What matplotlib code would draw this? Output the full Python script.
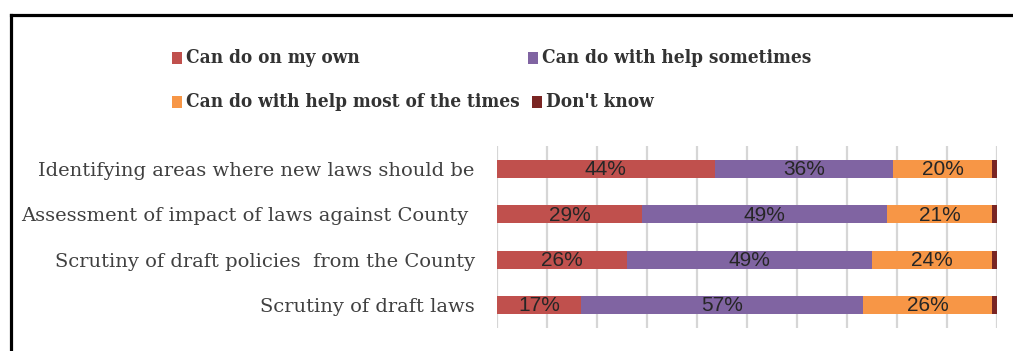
import matplotlib
matplotlib.use("Agg")
import matplotlib.pyplot as plt
from matplotlib.lines import Line2D
from matplotlib.patches import Rectangle
import numpy as np

# Survey items (top to bottom) and response shares in percent
items = [
    "Identifying areas where new laws should be",
    "Assessment of impact of laws against County ",
    "Scrutiny of draft policies  from the County",
    "Scrutiny of draft laws",
]
own = [44, 29, 26, 17]
help_sometimes = [36, 49, 49, 57]
help_most = [20, 21, 24, 26]
dont_know = [1, 1, 1, 1]

series_names = [
    "Can do on my own",
    "Can do with help sometimes",
    "Can do with help most of the times",
    "Don't know",
]
colors = ["#C0504D", "#8064A2", "#F79646", "#7A2523"]

W, H = 1013, 351
fig = plt.figure(figsize=(W / 100, H / 100), dpi=100)
fig.patch.set_facecolor("white")

ax = fig.add_axes([497 / W, (H - 327.7) / H, 500 / W, (327.7 - 146.3) / H])

data = np.array([own, help_sometimes, help_most, dont_know], dtype=float)
totals = data.sum(axis=0)
shares = data / totals  # 100% stacked

y = np.arange(len(items))
left = np.zeros(len(items))
for k, (vals, col) in enumerate(zip(shares, colors)):
    bars = ax.barh(y, vals, left=left, height=0.4, color=col, edgecolor="none", zorder=3)
    if k < 3:
        for b, raw in zip(bars, data[k]):
            cx = b.get_x() + b.get_width() / 2
            cy = b.get_y() + b.get_height() / 2
            ax.text(cx, cy + 0.02, f"{int(raw)}%", ha="center", va="center",
                    fontsize=15, family="Liberation Sans", color="#262626", zorder=4)
    left += vals

ax.set_xlim(0, 1)
ax.set_ylim(len(items) - 0.5, -0.5)
ax.set_xticks(np.linspace(0, 1, 11))
ax.set_xticklabels([])
ax.tick_params(axis="x", length=0)
ax.grid(axis="x", color="#d6d6d6", linewidth=1.6, zorder=0)
ax.set_axisbelow(True)
for s in ax.spines.values():
    s.set_visible(False)

ax.set_yticks(y)
ax.set_yticklabels(items, family="DejaVu Serif", fontsize=14, color="#404040")
ax.tick_params(axis="y", length=0, pad=16)

# Legend, two columns by two rows
leg_pos = [(172, 58), (528, 58), (172, 102), (532, 102)]
for (px, py), name, col in zip(leg_pos, series_names, colors):
    fig.add_artist(Rectangle((px / W, (H - py - 5.5) / H), 10 / W, 11 / H,
                             transform=fig.transFigure, facecolor=col, edgecolor="none"))
    fig.text((px + 14) / W, (H - py) / H, name, ha="left", va="center",
             family="DejaVu Serif", fontweight="bold", stretch="condensed",
             fontsize=13.6, color="#333333")

# Frame around the chart
fig.add_artist(Line2D([10.7 / W, 1.0], [(H - 14.5) / H, (H - 14.5) / H],
                      transform=fig.transFigure, color="black", linewidth=2.3,
                      solid_capstyle="projecting"))
fig.add_artist(Line2D([10.7 / W, 10.7 / W], [0, (H - 14.5) / H],
                      transform=fig.transFigure, color="black", linewidth=2.3,
                      solid_capstyle="projecting"))

fig.savefig("out.png", dpi=100, facecolor="white")
